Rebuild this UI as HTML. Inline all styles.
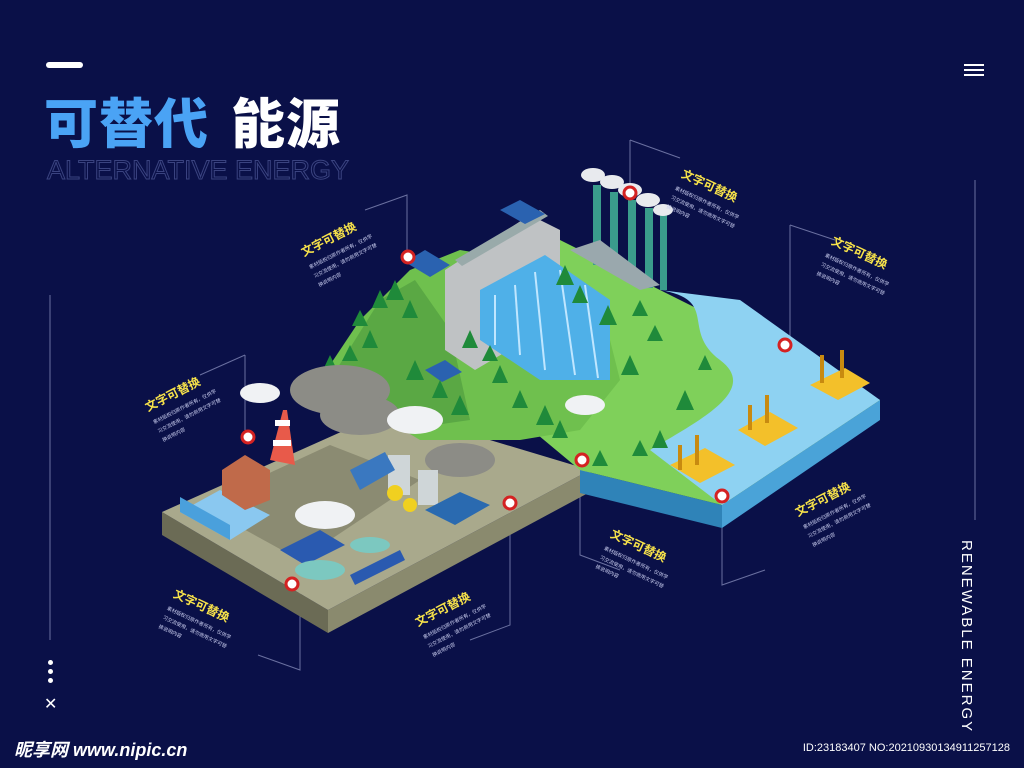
<!DOCTYPE html>
<html><head><meta charset="utf-8"><style>
body{margin:0;background:#0a1048;}
.wrap{position:relative;width:1024px;height:768px;overflow:hidden;background:#0a1048;font-family:"Liberation Sans","Noto Sans CJK SC",sans-serif;}
.t1{position:absolute;left:44px;top:80px;font-size:54px;font-weight:900;color:#4aa3f5;letter-spacing:1px;font-family:"Noto Sans CJK SC",sans-serif;}
.t1 span{color:#fff;margin-left:22px;}
.t2{position:absolute;left:47px;top:155px;font-size:27px;color:transparent;-webkit-text-stroke:1px #3a4380;letter-spacing:0px;white-space:nowrap;}
.lab{position:absolute;transform:rotate(-27deg);transform-origin:0 0;color:#fff;}
.lab b{display:block;color:#f7e24a;font-size:12px;font-family:"Noto Sans CJK SC",sans-serif;margin-bottom:4px;}
.lab i{display:block;font-style:normal;font-size:5px;line-height:10px;color:#c8ccee;width:70px;}
.side{position:absolute;left:958px;top:540px;color:#fff;font-size:15px;letter-spacing:2px;writing-mode:vertical-rl;}
.wm{position:absolute;left:14px;top:736px;color:#fff;font-size:18px;font-weight:bold;font-style:italic;}
.id{position:absolute;right:14px;top:742px;color:#fff;font-size:11px;}
</style></head><body><div class="wrap">
<div style="position:absolute;left:46px;top:62px;width:37px;height:6px;border-radius:3px;background:#fff"></div>
<div class="t1">可替代<span>能源</span></div>
<div class="t2">ALTERNATIVE ENERGY</div>
<div style="position:absolute;left:964px;top:64px;width:20px;height:2px;background:#fff;box-shadow:0 5px #fff,0 10px #fff"></div>
<div style="position:absolute;left:48px;top:660px;width:5px;height:5px;border-radius:50%;background:#fff;box-shadow:0 9px #fff,0 18px #fff"></div>
<div style="position:absolute;left:44px;top:694px;color:#fff;font-size:16px">✕</div>
<div class="side">RENEWABLE ENERGY</div>
<svg width="1024" height="768" style="position:absolute;left:0;top:0">
<g stroke="#6a70a0" stroke-width="1" fill="none">
<line x1="50" y1="295" x2="50" y2="640"/><line x1="975" y1="180" x2="975" y2="520"/>
<polyline points="365,210 407,195 407,250"/><polyline points="630,140 680,158"/><line x1="630" y1="140" x2="630" y2="185"/>
<polyline points="790,225 835,240"/><line x1="790" y1="225" x2="790" y2="340"/>
<polyline points="245,355 200,375"/><line x1="245" y1="355" x2="245" y2="430"/>
<polyline points="258,655 300,670 300,590"/><polyline points="470,640 510,625 510,505"/>
<polyline points="580,470 580,555 620,570"/><polyline points="722,500 722,585 765,570"/>
</g>
<polygon points="162,512 328,610 328,633 162,535" fill="#6b6b55"/>
<polygon points="328,610 590,470 590,492 328,633" fill="#8a8a6e"/>
<polygon points="162,512 390,410 590,470 328,610" fill="#a9a98c"/>
<polygon points="200,505 330,445 420,480 300,560" fill="#8b8b72"/>
<polygon points="580,470 722,505 722,528 580,493" fill="#2f83b8"/>
<polygon points="722,505 880,400 880,420 722,528" fill="#4aa3d8"/>
<polygon points="560,240 880,400 722,505 580,470 520,420" fill="#7fd05a"/>
<path d="M660,290 C720,300 680,330 720,360 C760,390 700,420 650,450 L722,505 L880,400 L740,300 Z" fill="#8ed2f2"/>
<polygon points="320,380 360,320 410,270 460,250 520,260 600,300 620,380 580,430 520,440 420,440" fill="#6fc04e"/>
<polygon points="330,380 380,300 415,280 450,330 470,420 400,430" fill="#5aa844"/>
<polygon points="445,270 530,215 560,230 560,320 475,370 445,350" fill="#bfc2c4"/>
<polygon points="480,290 545,255 610,300 610,380 540,380 480,340" fill="#4fb0e8"/>
<g stroke="#bfe6ff" stroke-width="2"><line x1="495" y1="295" x2="495" y2="345"/><line x1="515" y1="285" x2="520" y2="355"/><line x1="535" y1="272" x2="545" y2="370"/><line x1="560" y1="270" x2="575" y2="375"/><line x1="585" y1="285" x2="598" y2="378"/></g>
<polygon points="455,260 540,210 548,216 462,266" fill="#9aa"/>
<polygon points="500,210 520,200 545,214 525,224" fill="#2a62b0"/>
<polygon points="405,262 425,250 450,265 430,277" fill="#2a62b0"/>
<polygon points="425,370 445,360 462,372 442,382" fill="#2a62b0"/>
<g fill="#3a9c8c"><rect x="593" y="185" width="8" height="80"/><rect x="610" y="192" width="8" height="80"/><rect x="628" y="200" width="8" height="80"/><rect x="645" y="208" width="8" height="80"/><rect x="660" y="215" width="7" height="75"/></g>
<g fill="#e8eaee"><ellipse cx="593" cy="175" rx="12" ry="7"/><ellipse cx="612" cy="182" rx="12" ry="7"/><ellipse cx="630" cy="190" rx="12" ry="7"/><ellipse cx="648" cy="200" rx="12" ry="7"/><ellipse cx="663" cy="210" rx="10" ry="6"/></g>
<polygon points="570,250 640,290 660,285 600,240" fill="#9aa8ad"/>
<g fill="#1f8a3a">
<path d="M380,290l8,18h-16z M395,280l9,20h-18z M370,330l8,18h-16z M350,345l8,16h-16z M415,360l9,20h-18z M440,380l8,18h-16z M460,395l9,20h-18z M500,365l8,18h-16z M520,390l8,18h-16z M545,405l9,20h-18z M565,265l9,20h-18z M580,285l8,18h-16z M608,305l9,20h-18z M640,300l8,16h-16z M655,325l8,16h-16z M630,355l9,20h-18z M685,390l9,20h-18z M705,355l7,15h-14z M660,430l8,18h-16z M600,450l8,16h-16z M470,330l8,18h-16z M490,345l8,16h-16z M410,300l8,18h-16z M360,310l8,16h-16z M330,355l7,15h-14z M560,420l8,18h-16z M640,440l8,16h-16z"/>
</g>
<g fill="#8c8c86"><ellipse cx="340" cy="390" rx="50" ry="25"/><ellipse cx="360" cy="415" rx="40" ry="20"/><ellipse cx="460" cy="460" rx="35" ry="17"/></g>
<g fill="#f0f2f4"><ellipse cx="260" cy="393" rx="20" ry="10"/><ellipse cx="415" cy="420" rx="28" ry="14"/><ellipse cx="325" cy="515" rx="30" ry="14"/><ellipse cx="585" cy="405" rx="20" ry="10"/></g>
<polygon points="180,512 220,490 270,515 230,540" fill="#8ac8f0"/>
<polygon points="180,512 230,540 230,525 180,497" fill="#4aa0dc"/>
<polygon points="222,470 245,455 270,470 270,500 245,510 222,495" fill="#c06a4a"/>
<polygon points="270,460 283,410 287,410 295,465" fill="#e85a4a"/>
<rect x="275" y="420" width="15" height="6" fill="#fff"/><rect x="273" y="440" width="18" height="6" fill="#fff"/>
<polygon points="280,550 320,530 345,545 305,565" fill="#2a5ab0"/>
<polygon points="350,575 400,550 405,560 355,585" fill="#2a5ab0"/>
<ellipse cx="320" cy="570" rx="25" ry="10" fill="#7cc8c0"/><ellipse cx="370" cy="545" rx="20" ry="8" fill="#7cc8c0"/>
<rect x="388" y="455" width="22" height="40" fill="#cfd6d8"/><rect x="418" y="470" width="20" height="35" fill="#cfd6d8"/>
<polygon points="425,510 460,492 490,505 455,525" fill="#2a6ab0"/>
<polygon points="350,470 385,452 395,470 360,490" fill="#3a78c0"/>
<circle cx="395" cy="493" r="8" fill="#f0d020"/><circle cx="410" cy="505" r="7" fill="#f0d020"/>
<g fill="#f3c02a"><polygon points="670,465 705,448 735,465 700,483"/><polygon points="738,430 770,412 798,428 765,446"/><polygon points="810,385 845,368 870,383 838,400"/></g>
<g fill="#c88a10"><rect x="678" y="445" width="4" height="25"/><rect x="695" y="435" width="4" height="30"/><rect x="748" y="405" width="4" height="25"/><rect x="765" y="395" width="4" height="28"/><rect x="820" y="355" width="4" height="28"/><rect x="840" y="350" width="4" height="28"/></g>
<g fill="#fff" stroke="#d42222" stroke-width="3">
<circle cx="408" cy="257" r="6"/><circle cx="630" cy="193" r="6"/><circle cx="785" cy="345" r="6"/><circle cx="248" cy="437" r="6"/><circle cx="292" cy="584" r="6"/><circle cx="510" cy="503" r="6"/><circle cx="582" cy="460" r="6"/><circle cx="722" cy="496" r="6"/></g>
</svg>
<div class="lab" style="left:298px;top:245px"><b>文字可替换</b><i>素材版权归原作者所有，仅供学习交流使用，请勿商用文字可替换说明内容</i></div>
<div class="lab" style="left:686px;top:165px;transform:rotate(25deg)"><b>文字可替换</b><i>素材版权归原作者所有，仅供学习交流使用，请勿商用文字可替换说明内容</i></div>
<div class="lab" style="left:836px;top:232px;transform:rotate(25deg)"><b>文字可替换</b><i>素材版权归原作者所有，仅供学习交流使用，请勿商用文字可替换说明内容</i></div>
<div class="lab" style="left:142px;top:400px"><b>文字可替换</b><i>素材版权归原作者所有，仅供学习交流使用，请勿商用文字可替换说明内容</i></div>
<div class="lab" style="left:178px;top:585px;transform:rotate(25deg)"><b>文字可替换</b><i>素材版权归原作者所有，仅供学习交流使用，请勿商用文字可替换说明内容</i></div>
<div class="lab" style="left:412px;top:615px"><b>文字可替换</b><i>素材版权归原作者所有，仅供学习交流使用，请勿商用文字可替换说明内容</i></div>
<div class="lab" style="left:615px;top:525px;transform:rotate(25deg)"><b>文字可替换</b><i>素材版权归原作者所有，仅供学习交流使用，请勿商用文字可替换说明内容</i></div>
<div class="lab" style="left:792px;top:505px"><b>文字可替换</b><i>素材版权归原作者所有，仅供学习交流使用，请勿商用文字可替换说明内容</i></div>
<div class="wm">昵享网 www.nipic.cn</div>
<div class="id">ID:23183407 NO:20210930134911257128</div>
</div></body></html>
